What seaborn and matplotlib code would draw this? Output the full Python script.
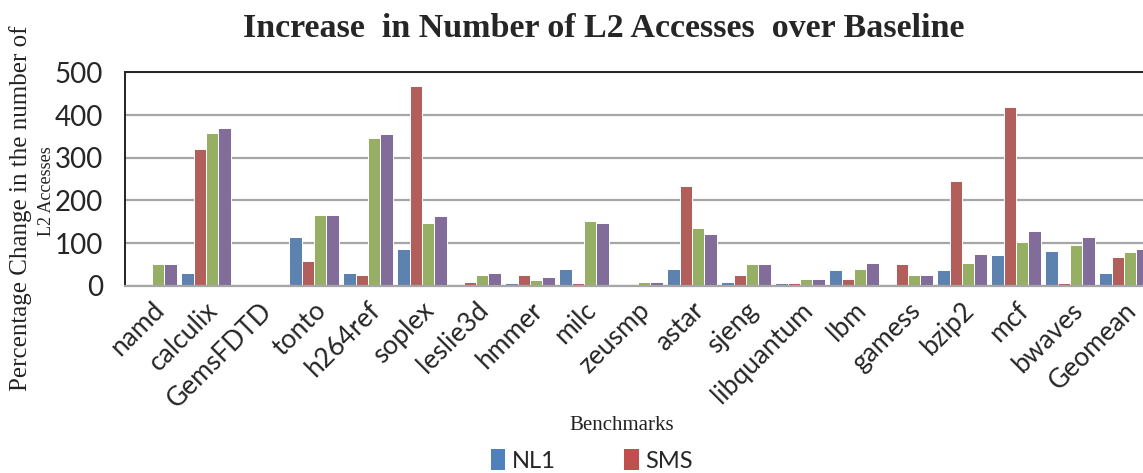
import matplotlib
matplotlib.use("Agg")
import matplotlib.pyplot as plt
import matplotlib.transforms as mtransforms
from matplotlib.patches import Patch
import seaborn as sns
import pandas as pd

# Benchmarks on the x axis
benchmarks = ["namd", "calculix", "GemsFDTD", "tonto", "h264ref", "soplex",
              "leslie3d", "hmmer", "milc", "zeusmp", "astar", "sjeng",
              "libquantum", "lbm", "gamess", "bzip2", "mcf", "bwaves", "Geomean"]

# Percentage change in L2 accesses for each scheme
nl1 = [0, 29, 0, 113, 29, 85, 0, 6, 40, 0, 40, 9, 6, 36, 0, 36, 71, 82, 29]
sms = [0, 320, 0, 58, 26, 467, 9, 26, 6, 0, 233, 26, 6, 15, 50, 246, 418, 6, 68]
scheme_c = [50, 358, 0, 166, 345, 148, 26, 13, 152, 9, 135, 50, 15, 40, 26, 54, 102, 96, 79]
scheme_d = [50, 369, 0, 166, 355, 163, 30, 20, 148, 9, 120, 50, 15, 54, 26, 75, 128, 113, 85]

series_names = ["NL1", "SMS", "Scheme C", "Scheme D"]
series_values = [nl1, sms, scheme_c, scheme_d]
colors = ["#4F81BD", "#C0504D", "#9BBB59", "#8064A2"]

rows = []
for name, vals in zip(series_names, series_values):
    for b, v in zip(benchmarks, vals):
        rows.append({"Benchmark": b, "Scheme": name, "Value": v})
df = pd.DataFrame(rows)

sns.set_theme(style="white")
plt.rcParams["font.family"] = ["Lato", "DejaVu Sans"]

fig = plt.figure(figsize=(11.43, 4.73), dpi=100)
ax = fig.add_axes([0.1094, 0.396, 0.8976, 0.451])

sns.barplot(data=df, x="Benchmark", y="Value", hue="Scheme",
            order=benchmarks, hue_order=series_names, palette=colors,
            width=0.92, edgecolor="white", linewidth=0.7, ax=ax,
            errorbar=None, legend=False)

ax.set_xlim(-0.5, len(benchmarks) - 0.5)
ax.set_ylim(0, 500)
ax.set_yticks(range(0, 501, 100))
ax.yaxis.grid(True, color="#A6A6A6", linewidth=1.6)
ax.set_axisbelow(True)
ax.tick_params(axis="y", length=0, pad=16, labelsize=20)
ax.tick_params(axis="x", length=0, pad=15, labelsize=19)
ax.set_xlabel("")
ax.set_ylabel("")

for lbl in ax.get_xticklabels():
    lbl.set_rotation(45)
    lbl.set_ha("right")
    lbl.set_va("center")
    lbl.set_rotation_mode("anchor")
    lbl.set_transform(lbl.get_transform() +
                      mtransforms.ScaledTranslation(6 / 72, 0, fig.dpi_scale_trans))

for side in ["top", "left"]:
    ax.spines[side].set_color("#222222")
    ax.spines[side].set_linewidth(1.4)
ax.spines["bottom"].set_color("#A6A6A6")
ax.spines["bottom"].set_linewidth(1.6)
ax.spines["right"].set_visible(False)

serif = ["Liberation Serif", "DejaVu Serif"]
fig.text(0.528, 0.94, "Increase  in Number of L2 Accesses  over Baseline",
         ha="center", va="center", fontsize=24.5, fontweight="bold", family=serif)
fig.text(0.018, 0.56, "Percentage Change in the number of", rotation=90,
         ha="center", va="center", fontsize=18, family=serif, color="#222222")
fig.text(0.041, 0.596, "L2 Accesses", rotation=90,
         ha="center", va="center", fontsize=13, family=serif, color="#222222")
fig.text(0.544, 0.101, "Benchmarks", ha="center", va="center",
         fontsize=15, family=serif, color="#222222")

handles = [Patch(facecolor=c, edgecolor="none") for c in colors[:2]]
fig.legend(handles, series_names[:2], loc="center", bbox_to_anchor=(0.518, 0.027),
           ncol=2, frameon=False, fontsize=17, handlelength=0.6, handleheight=1.0,
           handletextpad=0.3, columnspacing=2.9)

fig.savefig("out.png", dpi=100)
